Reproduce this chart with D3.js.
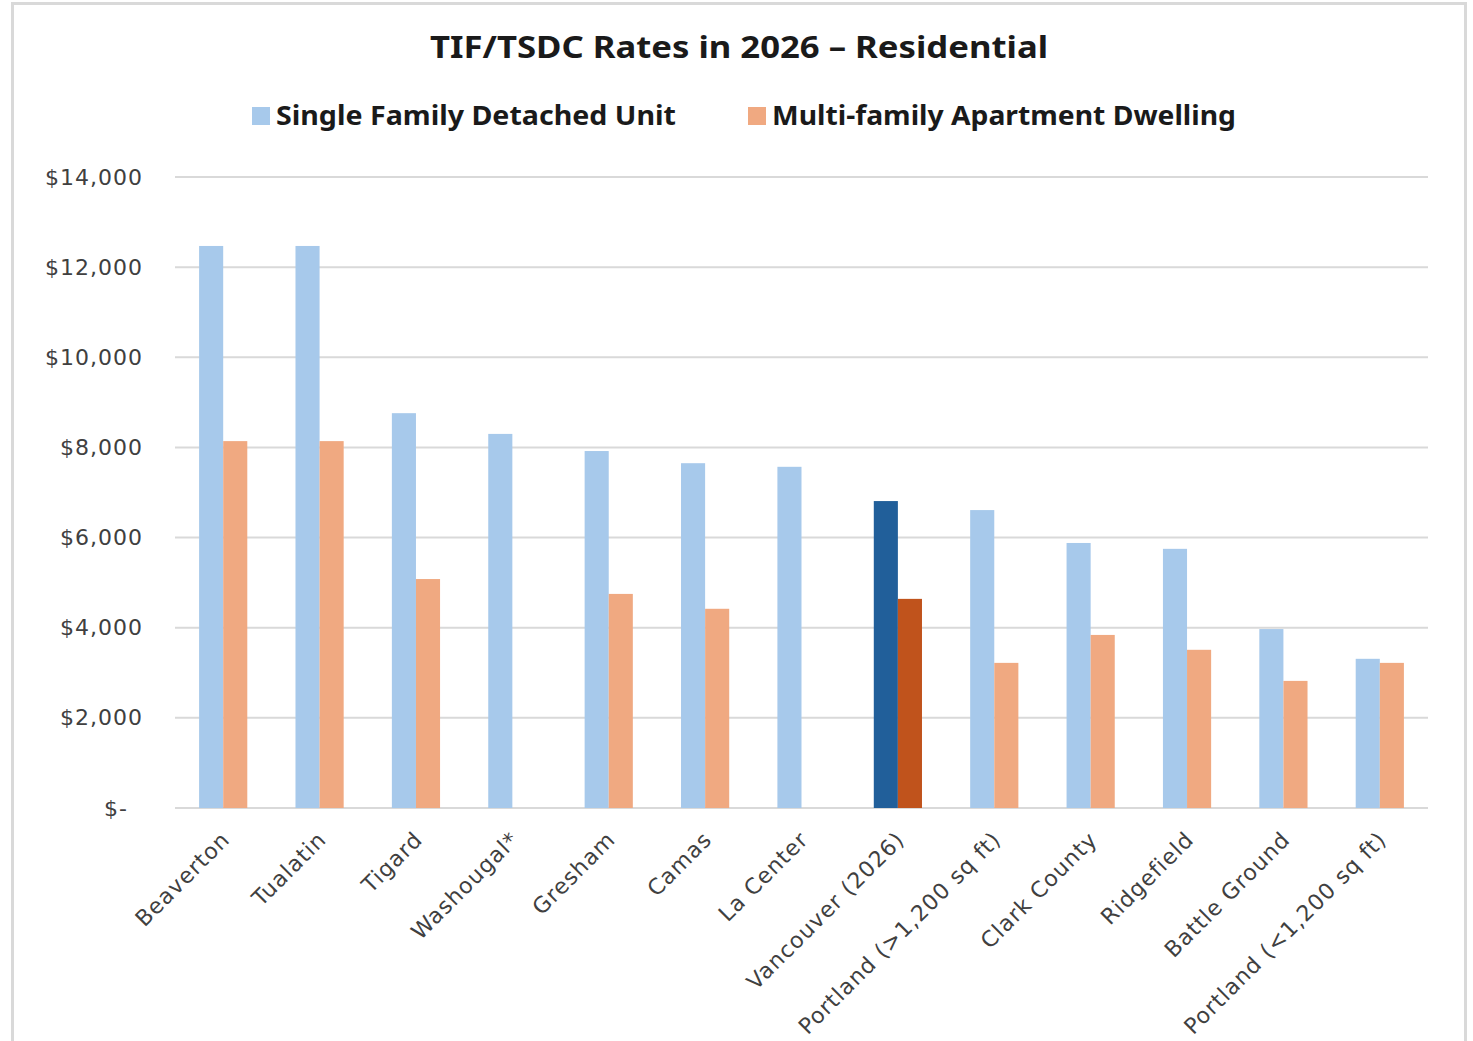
<!DOCTYPE html>
<html>
<head>
<meta charset="utf-8">
<script src="https://cdn.jsdelivr.net/npm/d3@7"></script>
<style>
  body { margin: 0; background: #fff; }
  .tick-label { font-family: "DejaVu Sans", "Open Sans", sans-serif; fill: #404040; letter-spacing: 1px; }
</style>
</head>
<body>
<div id="chart"></div>
<script>
// Chart data
const categories = ["Beaverton", "Tualatin", "Tigard", "Washougal*", "Gresham", "Camas", "La Center",
    "Vancouver (2026)", "Portland (>1,200 sq ft)", "Clark County", "Ridgefield", "Battle Ground", "Portland (<1,200 sq ft)"];
const singleFamily = [12470, 12470, 8760, 8300, 7920, 7650, 7570, 6810, 6610, 5880, 5750, 3970, 3310];
const multiFamily = [8140, 8140, 5080, null, 4750, 4420, null, 4640, 3220, 3840, 3510, 2820, 3220];
const seriesNames = ["Single Family Detached Unit", "Multi-family Apartment Dwelling"];
const yTicks = [0, 2000, 4000, 6000, 8000, 10000, 12000, 14000];
const highlight = "Vancouver (2026)";

const colors = {
    single: "#A7C9EB", multi: "#F0A981",
    singleDark: "#215F9A", multiDark: "#C0531C"
};

const W = 1473, H = 1041;
const margin = {top: 177, right: 45, bottom: 233, left: 175};
const width = W - margin.left - margin.right;
const height = H - margin.top - margin.bottom;

const svg = d3.select("#chart").append("svg")
    .attr("width", W)
    .attr("height", H);

// outer frame
svg.append("rect")
    .attr("x", 12.5).attr("y", 3.5)
    .attr("width", 1453).attr("height", H + 20)
    .attr("fill", "none")
    .attr("stroke", "#D9D9D9")
    .attr("stroke-width", 3);

const g = svg.append("g")
    .attr("transform", "translate(" + margin.left + "," + margin.top + ")");

// scales
const x = d3.scaleBand()
    .domain(categories)
    .range([0, width])
    .paddingInner(0.5)
    .paddingOuter(0.25);

const x1 = d3.scaleBand()
    .domain(["single", "multi"])
    .range([0, x.bandwidth()]);

const y = d3.scaleLinear()
    .domain([0, 14000])
    .range([height, 0]);

// gridlines
g.selectAll(".grid")
    .data(yTicks)
    .enter().append("line")
    .attr("class", "grid")
    .attr("x1", 0).attr("x2", width)
    .attr("y1", d => y(d)).attr("y2", d => y(d))
    .attr("stroke", "#D9D9D9")
    .attr("stroke-width", 2);

// y axis labels
const yAxis = d3.axisLeft(y)
    .tickValues(yTicks)
    .tickSize(0)
    .tickPadding(32)
    .tickFormat(d => d === 0 ? "$-" : "$" + d3.format(",")(d));

g.append("g")
    .attr("class", "y-axis")
    .call(yAxis)
    .call(sel => sel.select(".domain").remove())
    .selectAll("text")
    .attr("class", "tick-label")
    .attr("font-size", 22)
    .attr("dx", d => d === 0 ? -15 : 0);

// bars
const rows = categories.map((c, i) => ({name: c, single: singleFamily[i], multi: multiFamily[i]}));

const groups = g.selectAll(".group")
    .data(rows)
    .enter().append("g")
    .attr("class", "group")
    .attr("transform", d => "translate(" + x(d.name) + ",0)");

groups.selectAll("rect")
    .data(d => ["single", "multi"]
        .filter(k => d[k] != null)
        .map(k => ({key: k, value: d[k], hi: d.name === highlight})))
    .enter().append("rect")
    .attr("x", d => x1(d.key))
    .attr("width", x1.bandwidth())
    .attr("y", d => y(d.value))
    .attr("height", d => height - y(d.value))
    .attr("fill", d => d.hi ? colors[d.key + "Dark"] : colors[d.key]);

// x axis labels
const xAxis = d3.axisBottom(x).tickSize(0).tickPadding(0);

g.append("g")
    .attr("class", "x-axis")
    .attr("transform", "translate(0," + height + ")")
    .call(xAxis)
    .call(sel => sel.select(".domain").remove())
    .selectAll("text")
    .attr("class", "tick-label")
    .attr("font-size", 22)
    .attr("text-anchor", "end")
    .attr("dy", 0)
    .attr("transform", "translate(8,33) rotate(-45)");

// title
svg.append("text")
    .attr("x", 739)
    .attr("y", 58)
    .attr("text-anchor", "middle")
    .attr("font-family", "'Noto Sans', sans-serif")
    .attr("font-weight", "bold")
    .attr("font-size", 30)
    .attr("fill", "#1a1a1a")
    .attr("textLength", 618)
    .attr("lengthAdjust", "spacingAndGlyphs")
    .text("TIF/TSDC Rates in 2026 – Residential");

// legend
const legendItems = [
    {label: seriesNames[0], color: colors.single, x: 252, len: 400},
    {label: seriesNames[1], color: colors.multi, x: 748, len: 464}
];

const legend = svg.selectAll(".legend")
    .data(legendItems)
    .enter().append("g")
    .attr("class", "legend")
    .attr("transform", d => "translate(" + d.x + ",107)");

legend.append("rect")
    .attr("width", 18).attr("height", 18)
    .attr("fill", d => d.color);

legend.append("text")
    .attr("x", 24)
    .attr("y", 18)
    .attr("font-family", "'Noto Sans', sans-serif")
    .attr("font-weight", "bold")
    .attr("font-size", 27)
    .attr("fill", "#1a1a1a")
    .attr("textLength", d => d.len)
    .attr("lengthAdjust", "spacingAndGlyphs")
    .text(d => d.label);
</script>
</body>
</html>
